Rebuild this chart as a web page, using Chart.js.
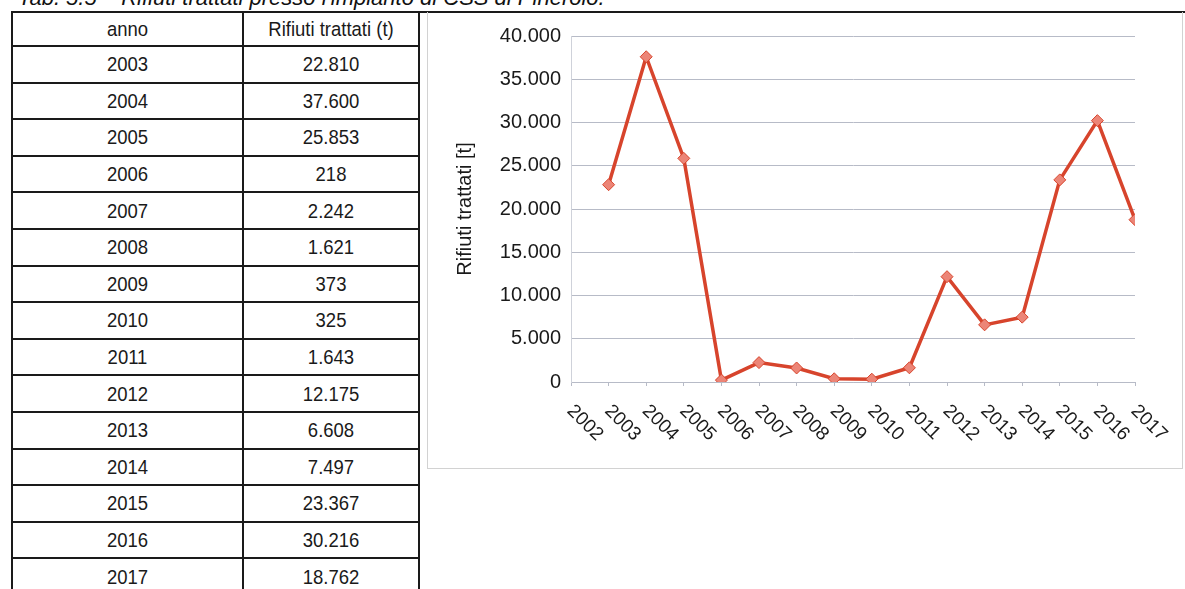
<!DOCTYPE html>
<html>
<head>
<meta charset="utf-8">
<script src="https://cdn.jsdelivr.net/npm/chart.js@4"></script>
<style>
  html, body {
    margin: 0;
    padding: 0;
    width: 1185px;
    height: 589px;
    overflow: hidden;
    background: #fff;
    font-family: "Liberation Sans", Arial, sans-serif;
  }
  #caption {
    position: absolute;
    left: 18px;
    top: -13px;
    font-size: 22px;
    line-height: 22px;
    font-style: italic;
    color: #111;
    white-space: nowrap;
  }
  #topRule {
    position: absolute;
    left: 11px;
    top: 11px;
    width: 1174px;
    height: 2px;
    background: #1a1a1a;
  }
  #tableBox {
    position: absolute;
    left: 11px;
    top: 11px;
  }
  table {
    border-collapse: collapse;
    font-family: "Liberation Sans Narrow", "Liberation Sans", Arial, sans-serif;
    font-size: 18.5px;
    color: #1a1a1a;
  }
  td, th {
    border: 2px solid #1a1a1a;
    text-align: center;
    font-weight: normal;
    padding: 0;
  }
  td span, th span {
    display: inline-block;
    transform: scaleY(1.14);
  }
  th { height: 32px; }
  td { height: 34.6px; }
  #chartBox {
    position: absolute;
    left: 427px;
    top: 12px;
    width: 754px;
    height: 456px;
    border: 1px solid #d2d2d2;
    border-top: none;
  }
</style>
</head>
<body>
<div id="caption">Tab. 5.5 – Rifiuti trattati presso l'impianto di CSS di Pinerolo.</div>
<div id="tableBox">
  <table id="dataTable">
    <colgroup><col style="width:231px"><col style="width:176px"></colgroup>
    <thead><tr><th><span>anno</span></th><th><span>Rifiuti trattati (t)</span></th></tr></thead>
    <tbody></tbody>
  </table>
</div>
<div id="topRule"></div>
<div id="chartBox"><canvas id="myChart"></canvas></div>

<script>
// years and treated waste (t)
const years = [2003, 2004, 2005, 2006, 2007, 2008, 2009, 2010, 2011, 2012, 2013, 2014, 2015, 2016, 2017];
const wasteTons = [22810, 37600, 25853, 218, 2242, 1621, 373, 325, 1643, 12175, 6608, 7497, 23367, 30216, 18762];

// x axis tick labels (the axis starts one year before the data)
const xTickYears = [2002, 2003, 2004, 2005, 2006, 2007, 2008, 2009, 2010, 2011, 2012, 2013, 2014, 2015, 2016, 2017];
const yTicks = [0, 5000, 10000, 15000, 20000, 25000, 30000, 35000, 40000];

// italian thousands separator
function formatIt(n) {
  return String(n).replace(/\B(?=(\d{3})+(?!\d))/g, ".");
}

// fill the table from the same arrays
const tbody = document.querySelector("#dataTable tbody");
years.forEach((year, i) => {
  const tr = document.createElement("tr");
  tr.innerHTML = `<td><span>${year}</span></td><td><span>${formatIt(wasteTons[i])}</span></td>`;
  tbody.appendChild(tr);
});

const xyValues = years.map((year, i) => ({ x: year, y: wasteTons[i] }));
const gridColor = "#b7bbc7";

let chart = new Chart(document.getElementById("myChart"), {
  type: "line",
  data: {
    datasets: [
      {
        label: "Rifiuti trattati",
        data: xyValues,
        borderColor: "#d7442c",
        borderWidth: 3.5,
        tension: 0,
        pointStyle: "rectRot",
        pointRadius: 6,
        pointBackgroundColor: "#ec8577",
        pointBorderColor: "#d7442c",
        pointBorderWidth: 1,
      },
    ],
  },
  options: {
    responsive: true,
    maintainAspectRatio: false,
    animation: false,
    layout: {
      padding: { top: 24, right: 47, bottom: 0, left: 0 },
    },
    scales: {
      x: {
        type: "linear",
        min: xTickYears[0],
        max: xTickYears[xTickYears.length - 1],
        ticks: { stepSize: 1, display: false },
        grid: {
          display: true,
          drawOnChartArea: false,
          drawTicks: true,
          tickLength: 4,
          color: gridColor,
        },
        border: { display: true, color: gridColor, width: 1 },
        afterFit(scale) {
          scale.height = 86;
        },
      },
      y: {
        min: yTicks[0],
        max: yTicks[yTicks.length - 1],
        ticks: {
          stepSize: 5000,
          padding: 10,
          color: "#1a1a1a",
          font: { family: "Liberation Sans", size: 20 },
          callback: (value) => formatIt(value),
        },
        grid: { color: gridColor, drawTicks: false },
        border: { display: true, color: "#cfd2da", width: 1 },
        title: {
          display: true,
          text: "Rifiuti trattati [t]",
          color: "#1a1a1a",
          font: { family: "Liberation Sans", size: 20 },
          padding: { top: 25, bottom: 0 },
        },
        afterFit(scale) {
          scale.width = 143;
        },
      },
    },
    plugins: {
      legend: { display: false },
      tooltip: { enabled: false },
    },
  },
  plugins: [
    {
      id: "slanted_year_labels",
      afterDraw(chart) {
        const { ctx, scales } = chart;
        ctx.save();
        ctx.font = '19px "Liberation Sans"';
        ctx.fillStyle = "#1a1a1a";
        ctx.textAlign = "left";
        ctx.textBaseline = "middle";
        xTickYears.forEach((year) => {
          const x = scales.x.getPixelForValue(year);
          ctx.save();
          ctx.translate(x - 1, scales.x.top + 26);
          ctx.rotate(Math.PI / 4);
          ctx.fillText(String(year), 0, 0);
          ctx.restore();
        });
        ctx.restore();
      },
    },
  ],
});
</script>
</body>
</html>
